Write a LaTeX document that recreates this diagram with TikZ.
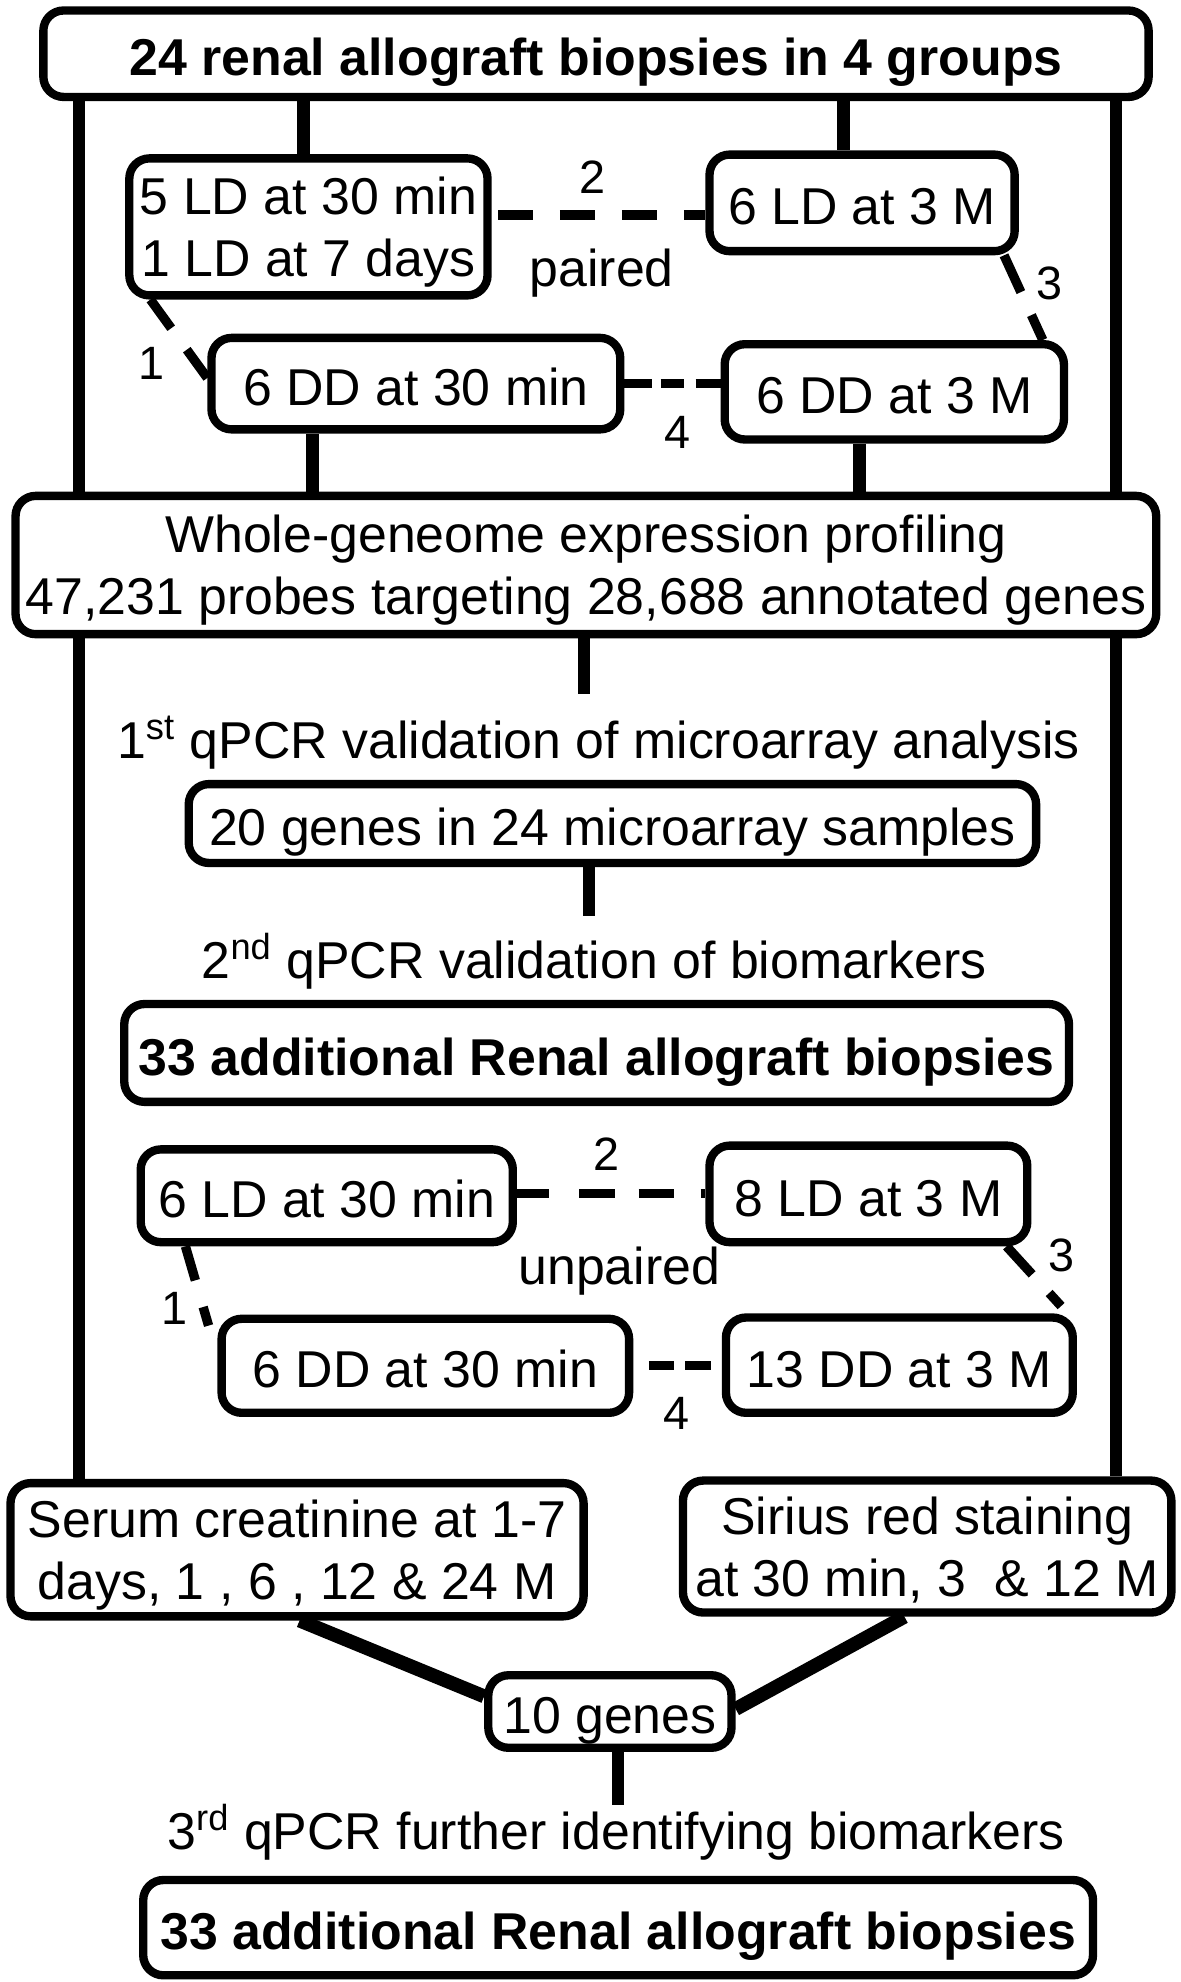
\documentclass[tikz,border=0pt]{standalone}
\usepackage{fontspec}
\setmainfont{Liberation Sans}
\begin{document}
\begin{tikzpicture}[x=0.5pt,y=-0.5pt,
  boxbase/.style={draw, line width=3.3pt, rounded corners=8pt, inner sep=0pt, align=center,
    font=\fontsize{20.5pt}{24.5pt}\selectfont},
  box/.style={boxbase, text height=17.5pt, text depth=0pt},
  box2/.style={boxbase, text depth=0pt},
  bbox/.style={box, font=\fontsize{20.5pt}{24.5pt}\selectfont\bfseries},
  link/.style={line width=5pt},
  heavylink/.style={line width=5.5pt},
  dashlink/.style={line width=3.7pt},
  lab/.style={anchor=base, inner sep=0pt, font=\fontsize{20.5pt}{24.5pt}\selectfont},
  num/.style={anchor=base, inner sep=0pt, font=\fontsize{18.5pt}{22pt}\selectfont},
]
\useasboundingbox (0,0) rectangle (934,1568);

% boxes
\node[bbox, minimum width=437.2pt, minimum height=34.2pt] (top) at (471.5,42.5) {24 renal allograft biopsies in 4 groups};
\node[box2, minimum width=141.7pt, minimum height=54.2pt] (ld1) at (244,179.5) {5 LD at 30 min\\1 LD at 7 days};
\node[box, minimum width=120.7pt, minimum height=38.2pt] (ld2) at (682,160.5) {6 LD at 3 M};
\node[box, minimum width=161.7pt, minimum height=36.2pt] (dd1) at (329,303.5) {6 DD at 30 min};
\node[box, minimum width=134.2pt, minimum height=37.7pt] (dd2) at (707.5,310) {6 DD at 3 M};
\node[box2, minimum width=451.2pt, minimum height=54.7pt] (whole) at (463.5,447) {Whole-geneome expression profiling\\47,231 probes targeting 28,688 annotated genes};
\node[box, minimum width=335.2pt, minimum height=31.2pt] (genes20) at (484.5,651.5) {20 genes in 24 microarray samples};
\node[bbox, minimum width=373.7pt, minimum height=38.7pt] (add1) at (472,833) {33 additional Renal allograft biopsies};
\node[box, minimum width=147.2pt, minimum height=36.7pt] (ld3) at (258.5,946) {6 LD at 30 min};
\node[box, minimum width=125.7pt, minimum height=38.2pt] (ld4) at (687,944.5) {8 LD at 3 M};
\node[box, minimum width=161.2pt, minimum height=37.2pt] (dd3) at (336.5,1080.5) {6 DD at 30 min};
\node[box, minimum width=137.2pt, minimum height=37.7pt] (dd4) at (711.5,1080) {13 DD at 3 M};
\node[box2, text depth=-2.5pt, minimum width=226.7pt, minimum height=52.7pt] (serum) at (235,1226) {Serum creatinine at 1-7\\days, 1 , 6 , 12 \& 24 M};
\node[box2, text depth=-2pt, minimum width=193.2pt, minimum height=52.2pt] (sirius) at (733.5,1223.5) {Sirius red staining\\at 30 min, 3\ \ \& 12 M};
\node[box, minimum width=96.2pt, minimum height=28.7pt] (genes10) at (482.5,1354) {10 genes};
\node[bbox, minimum width=375.7pt, minimum height=37.7pt] (add2) at (489,1525) {33 additional Renal allograft biopsies};

% free texts
\node[lab] (q1) at (473.5,600) {1\textsuperscript{st} qPCR validation of microarray analysis};
\node[lab] (q2) at (470,774) {2\textsuperscript{nd} qPCR validation of biomarkers};
\node[lab] (q3) at (487.5,1463) {3\textsuperscript{rd} qPCR further identifying biomarkers};
\node[num] (n2a) at (469,153) {2};
\node[lab] (paired) at (476,227) {paired};
\node[num] (n1a) at (120,300.5) {1};
\node[num] (n3a) at (830,237) {3};
\node[num] (n4a) at (536,355) {4};
\node[num] (n2b) at (480,926) {2};
\node[lab] (unpaired) at (490,1016) {unpaired};
\node[num] (n1b) at (138,1048) {1};
\node[num] (n3b) at (840,1006) {3};
\node[num] (n4b) at (535,1131) {4};

% helper coordinates
\coordinate (xL) at (62.6,0);
\coordinate (xR) at (883,0);
\coordinate (c1) at (240,0);
\coordinate (c2) at (667.5,0);
\coordinate (c3) at (247,0);
\coordinate (c4) at (680,0);
\coordinate (q1top) at (462,549);
\coordinate (q2top) at (466,725);
\coordinate (q3top) at (489,1428);
\coordinate (d2y) at (0,170);
\coordinate (d2by) at (0,944);

% solid connectors
\draw[link] (top.south -| xL) -- (whole.north -| xL);
\draw[link] (whole.south -| xL) -- (serum.north -| xL);
\draw[link] (top.south -| xR) -- (whole.north -| xR);
\draw[link] (whole.south -| xR) -- (sirius.north -| xR);
\draw[link] (top.south -| c1) -- (ld1.north -| c1);
\draw[link] (top.south -| c2) -- (ld2.north -| c2);
\draw[link] (dd1.south -| c3) -- (whole.north -| c3);
\draw[link] (dd2.south -| c4) -- (whole.north -| c4);
\draw[link] (whole.south -| q1top) -- (q1top);
\draw[link] (genes20.south -| q2top) -- (q2top);
\draw[link] (genes10.south -| q3top) -- (q3top);
\draw[heavylink] ([xshift=1pt]serum.south) -- ([yshift=6pt]genes10.west);
\draw[heavylink] ([xshift=-9pt]sirius.south) -- ([yshift=1pt]genes10.east);

% dashed connectors, first group
\draw[dashlink, dash pattern=on 14pt off 10.5pt, dash phase=22pt] (ld1.east |- d2y) -- (ld2.west |- d2y);
\draw[dashlink, dash pattern=on 14pt off 10.5pt] ([xshift=10pt]ld1.south west) -- ([yshift=2.25pt]dd1.west);
\draw[dashlink, dash pattern=on 16pt off 10pt] ([xshift=-5.85pt]ld2.south east) -- ([xshift=-10pt]dd2.north east);
\draw[dashlink, dash pattern=on 11pt off 3.3pt on 9.25pt off 4.6pt on 14pt off 10pt] (dd1.east) -- (dd2.west |- dd1.east);

% dashed connectors, second group
\draw[dashlink, dash pattern=on 12.65pt off 12pt on 14pt off 9.5pt on 14pt off 10.5pt on 10pt off 10pt] (ld3.east |- d2by) -- (ld4.west |- d2by);
\draw[dashlink, dash pattern=on 14pt off 11pt] ([xshift=19.35pt]ld3.south west) -- ([xshift=-3.5pt,yshift=-4.35pt]dd3.north west);
\draw[dashlink, dash pattern=on 15pt off 10pt on 7pt off 20pt] ([xshift=-9.85pt]ld4.south east) -- ([xshift=-3.65pt]dd4.north east);
\draw[dashlink, dash pattern=on 0pt off 6.15pt on 10pt off 4.5pt on 10pt off 20pt] (dd3.east) -- (dd4.west |- dd3.east);
\end{tikzpicture}
\end{document}
